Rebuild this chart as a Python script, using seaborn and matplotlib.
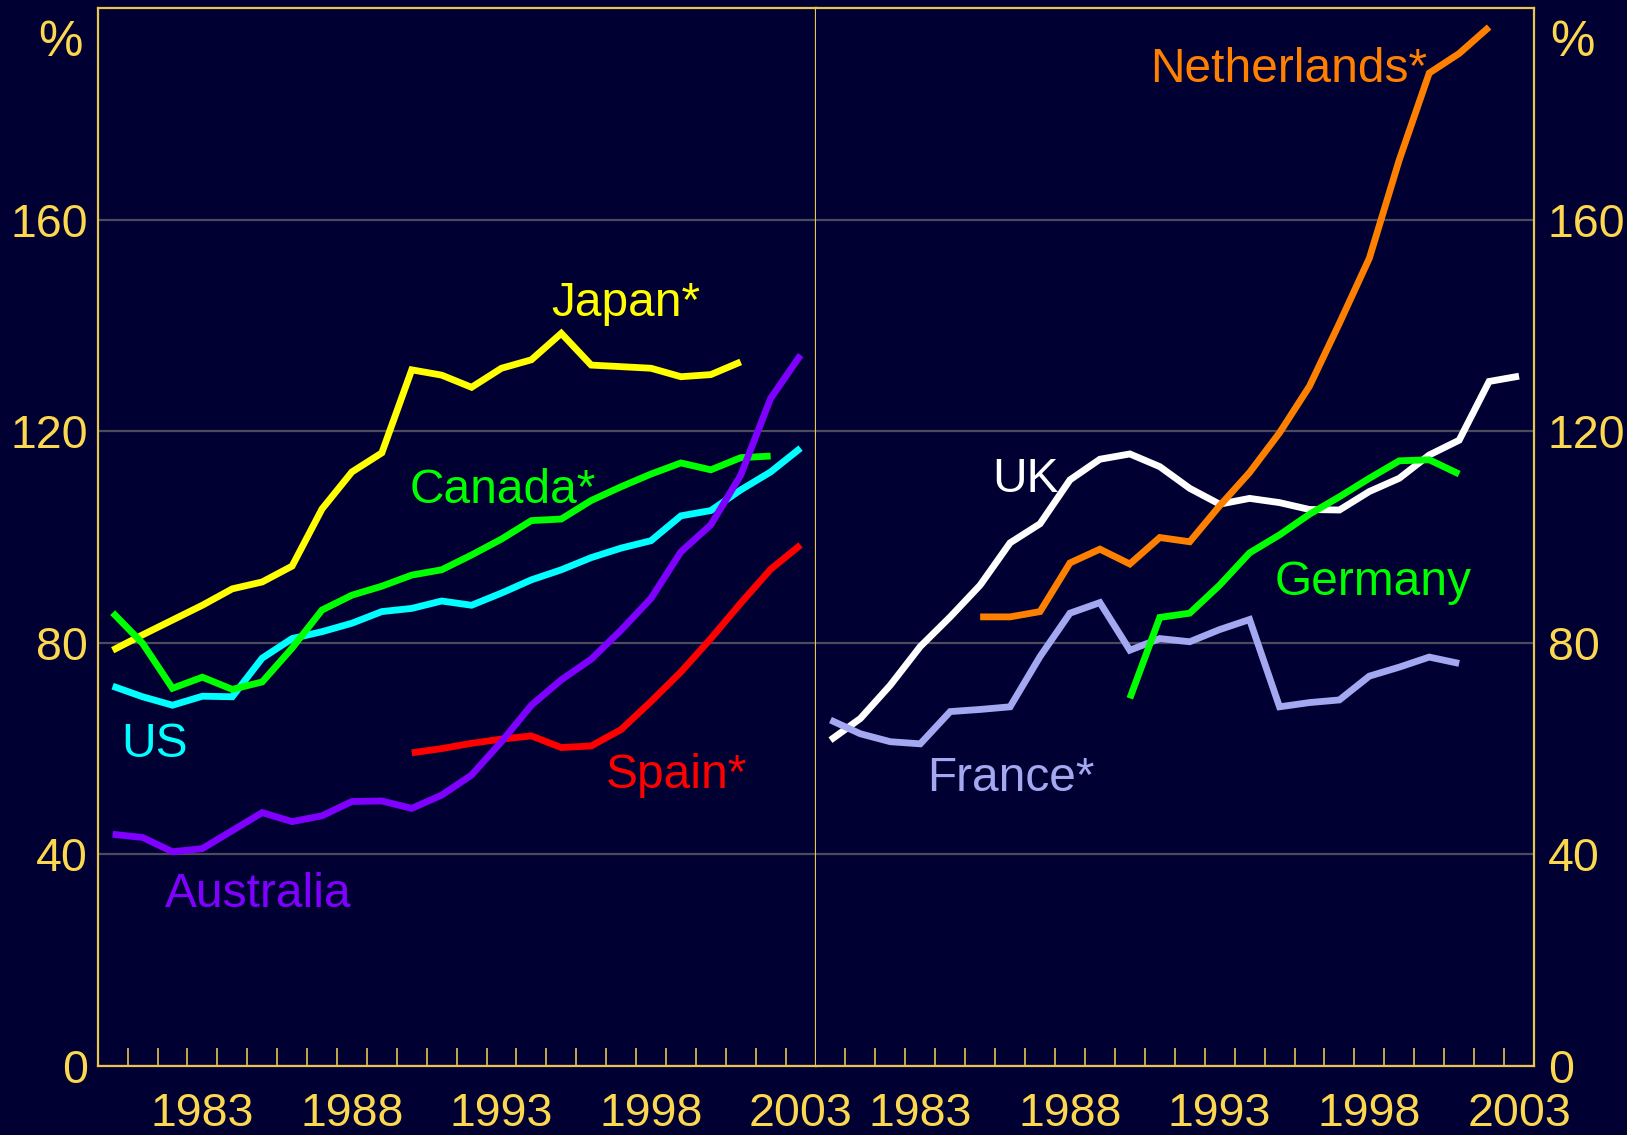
import numpy as np
import pandas as pd
import matplotlib
matplotlib.use("Agg")
import matplotlib.pyplot as plt
import seaborn as sns

# ---------------- data ----------------
japan = [78.6, 81.5, 84.3, 87.1, 90.2, 91.5, 94.5, 105.3, 112.3, 115.9, 131.6,
         130.6, 128.3, 131.9, 133.5, 138.5, 132.5, 132.2, 131.9, 130.3, 130.7, 133.1]
japan_years = list(range(1980, 2002))

canada = [85.7, 79.9, 71.4, 73.5, 71.2, 72.6, 79.0, 86.2, 89.0, 90.7, 92.8, 93.8,
          96.6, 99.6, 103.1, 103.4, 106.9, 109.5, 111.9, 114.0, 112.7, 115.0, 115.3]
canada_years = list(range(1980, 2003))

us = [71.8, 69.8, 68.2, 69.9, 69.8, 77.1, 80.8, 82.1, 83.7, 85.9, 86.5, 87.9,
      87.1, 89.4, 91.9, 93.8, 96.1, 97.9, 99.3, 104.0, 105.0, 108.9, 112.3, 116.8]
us_years = list(range(1980, 2004))

australia = [43.8, 43.2, 40.5, 41.1, 44.5, 47.9, 46.2, 47.3, 50.0, 50.1, 48.7, 51.2,
             55.0, 61.3, 68.2, 73.0, 76.9, 82.4, 88.4, 97.2, 102.3, 111.7, 126.2, 134.4]
australia_years = list(range(1980, 2004))

spain = [59.2, 60.0, 61.0, 61.8, 62.4, 60.2, 60.5, 63.6, 68.9, 74.5, 80.8, 87.5, 93.9, 98.5]
spain_years = list(range(1990, 2004))

uk = [61.6, 65.7, 72.0, 79.3, 84.9, 90.9, 98.9, 102.5, 110.8, 114.7, 115.7, 113.3,
      109.2, 106.2, 107.3, 106.5, 105.2, 105.1, 108.6, 111.1, 115.5, 118.3, 129.4, 130.4]
uk_years = list(range(1980, 2004))

netherlands = [84.9, 84.9, 85.9, 95.1, 97.7, 94.9, 99.9, 99.1, 105.9, 112.2, 119.7,
               128.5, 140.4, 152.7, 171.3, 187.7, 191.4, 196.4]
netherlands_years = list(range(1985, 2003))

germany = [69.5, 84.8, 85.6, 90.9, 97.0, 100.4, 104.3, 107.6, 111.1, 114.4, 114.6, 111.9]
germany_years = list(range(1990, 2002))

france = [65.4, 62.8, 61.3, 60.9, 67.0, 67.4, 67.9, 77.4, 85.6, 87.6, 78.6, 80.8,
          80.2, 82.5, 84.4, 67.9, 68.7, 69.2, 73.7, 75.4, 77.3, 76.1]
france_years = list(range(1980, 2002))

x_tick_labels = [1983, 1988, 1993, 1998, 2003]
y_ticks = [0, 40, 80, 120, 160]

left_series = [("Japan*", japan_years, japan, "#FFFF00"),
               ("US", us_years, us, "#00FFFF"),
               ("Canada*", canada_years, canada, "#00FF00"),
               ("Spain*", spain_years, spain, "#FF0000"),
               ("Australia", australia_years, australia, "#8000FF")]
right_series = [("UK", uk_years, uk, "#FFFFFF"),
                ("France*", france_years, france, "#A3A8F0"),
                ("Netherlands*", netherlands_years, netherlands, "#FF8000"),
                ("Germany", germany_years, germany, "#00FF00")]

# label positions (data coords, left-baseline)
left_labels = [("Japan*", 1994.68, 141.7), ("Canada*", 1989.94, 106.5),
               ("US", 1980.29, 58.5), ("Spain*", 1996.49, 52.5),
               ("Australia", 1981.75, 30.1)]
right_labels = [("Netherlands*", 1990.68, 186.1), ("UK", 1985.39, 108.6),
                ("Germany", 1994.82, 89.0), ("France*", 1983.24, 51.9)]

# ---------------- style ----------------
BG = "#000033"
GOLD = "#FCD750"
SPINE = "#E8C452"
GRID = "#4B4B5C"

sns.set_style("dark")
plt.rcParams["font.family"] = ["Liberation Sans", "DejaVu Sans"]

fig = plt.figure(figsize=(16.27, 11.35), dpi=100, facecolor=BG)
W, H = 1627, 1135
y0, y1 = 1066, 8
axL = fig.add_axes([97.7 / W, (H - y0) / H, 717.8 / W, (y0 - y1) / H])
axR = fig.add_axes([815.5 / W, (H - y0) / H, 718.5 / W, (y0 - y1) / H])


def to_df(series):
    rows = []
    for name, yrs, vals, _ in series:
        for yy, v in zip(yrs, vals):
            rows.append({"year": yy, "value": v, "country": name})
    return pd.DataFrame(rows)


for ax, series, labels in [(axL, left_series, left_labels), (axR, right_series, right_labels)]:
    ax.set_facecolor(BG)
    df = to_df(series)
    order = [s[0] for s in series]
    pal = {s[0]: s[3] for s in series}
    sns.lineplot(data=df, x="year", y="value", hue="country", hue_order=order,
                 palette=pal, legend=False, linewidth=4.9, estimator=None,
                 sort=False, ax=ax)
    for ln in ax.lines:
        ln.set_solid_capstyle("butt")
        ln.set_solid_joinstyle("miter")
    for text, xx, yy in labels:
        ax.text(xx, yy, text, color=pal[text], fontsize=34.5, ha="left",
                va="baseline")

    ax.set_xlim(1979.5, 2003.5)
    ax.set_ylim(0, 200)
    ax.set_xticks(x_tick_labels)
    ax.set_xticklabels([str(v) for v in x_tick_labels])
    ax.set_xticks(np.arange(1980.5, 2003.0, 1.0), minor=True)
    ax.set_yticks(y_ticks)
    ax.set_yticklabels([str(v) for v in y_ticks])
    ax.set_xlabel("")
    ax.set_ylabel("")
    ax.grid(False)
    ax.yaxis.grid(True, color=GRID, linewidth=1.6)
    ax.set_axisbelow(True)
    ax.tick_params(axis="x", which="major", bottom=True, length=0, pad=19,
                   labelsize=33.5, labelcolor=GOLD)
    ax.tick_params(axis="x", which="minor", bottom=True, direction="in",
                   length=13, width=1.2, color=SPINE)
    ax.tick_params(axis="y", which="both", length=0, labelsize=33.5,
                   labelcolor=GOLD)
    for sp in ax.spines.values():
        sp.set_visible(True)
        sp.set_color(SPINE)
        sp.set_linewidth(1.6)

axL.tick_params(axis="y", pad=7)
axR.yaxis.tick_right()
axR.tick_params(axis="y", length=0, pad=10, labelsize=33.5, labelcolor=GOLD)
axR.spines["left"].set_visible(False)

fig.text(60 / W, 1 - 43 / H, "%", color=GOLD, fontsize=36, ha="center", va="center")
fig.text(1572 / W, 1 - 43 / H, "%", color=GOLD, fontsize=36, ha="center", va="center")

fig.savefig("out.png", dpi=100, facecolor=BG)
